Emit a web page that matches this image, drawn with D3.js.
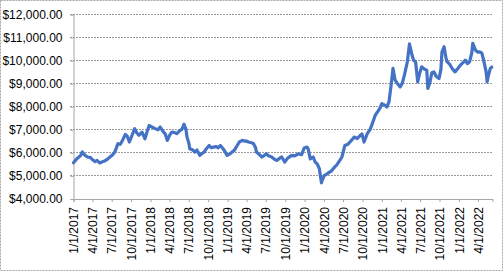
<!DOCTYPE html>
<html><head><meta charset="utf-8">
<script src="https://cdn.jsdelivr.net/npm/d3@7/dist/d3.min.js"></script>
<style>
html,body{margin:0;padding:0;background:#fff;}
svg{display:block;}
text{font-family:"Liberation Sans",Arial,sans-serif;font-size:12px;fill:#000;}
</style></head>
<body>
<svg id="chart" width="503" height="271"></svg>
<script>
const dates = [
"2017-01-03","2017-01-22","2017-02-05","2017-02-14","2017-02-24","2017-03-10","2017-03-24","2017-04-01","2017-04-15","2017-04-25",
"2017-05-08","2017-05-22","2017-06-01","2017-06-15","2017-06-25","2017-07-08","2017-07-18","2017-08-02","2017-08-12","2017-08-22",
"2017-09-06","2017-09-15","2017-09-25","2017-10-06","2017-10-20","2017-10-30","2017-11-09","2017-11-24","2017-12-08","2017-12-18",
"2017-12-28","2018-01-10","2018-01-25","2018-02-08","2018-02-18","2018-03-04","2018-03-14","2018-03-24","2018-04-04","2018-04-14",
"2018-04-28","2018-05-08","2018-05-23","2018-06-01","2018-06-11","2018-06-20","2018-06-25","2018-07-04","2018-07-08","2018-07-23",
"2018-08-01","2018-08-11","2018-08-25","2018-09-04","2018-09-14","2018-09-24","2018-10-08","2018-10-18","2018-10-28","2018-11-11",
"2018-11-20","2018-11-30","2018-12-14","2018-12-24","2019-01-01","2019-01-16","2019-02-04","2019-02-18","2019-02-28","2019-03-14",
"2019-03-28","2019-04-02","2019-04-12","2019-04-27","2019-05-06","2019-05-16","2019-05-20","2019-06-04","2019-06-14","2019-06-24",
"2019-07-06","2019-07-16","2019-07-31","2019-08-14","2019-08-24","2019-09-07","2019-09-17","2019-10-01","2019-10-15","2019-11-03",
"2019-11-17","2019-12-06","2019-12-20","2020-01-01","2020-01-15","2020-01-20","2020-01-30","2020-02-13","2020-02-22","2020-03-03",
"2020-03-13","2020-03-23","2020-03-27","2020-04-06","2020-04-16","2020-04-30","2020-05-10","2020-05-24","2020-06-03","2020-06-18",
"2020-06-28","2020-07-12","2020-07-26","2020-08-05","2020-08-15","2020-08-25","2020-09-09","2020-09-23","2020-10-01","2020-10-11",
"2020-10-26","2020-11-09","2020-11-19","2020-12-03","2020-12-17","2020-12-27","2021-01-03","2021-01-17","2021-01-27","2021-02-06",
"2021-02-16","2021-02-25","2021-03-07","2021-03-17","2021-03-31","2021-04-10","2021-04-20","2021-05-04","2021-05-14","2021-05-24",
"2021-06-02","2021-06-12","2021-06-22","2021-07-01","2021-07-11","2021-07-25","2021-08-04","2021-08-09","2021-08-18","2021-08-28",
"2021-09-07","2021-09-17","2021-10-01","2021-10-10","2021-10-15","2021-10-25","2021-11-03","2021-11-08","2021-11-22","2021-12-02",
"2021-12-16","2021-12-26","2022-01-10","2022-01-24","2022-02-03","2022-02-13","2022-02-23","2022-03-05","2022-03-10","2022-03-23",
"2022-04-02","2022-04-12","2022-04-22","2022-05-02","2022-05-12","2022-05-17","2022-05-22","2022-06-01","2022-06-08"
];
const values = [
5550,5750,5850,6020,5900,5800,5780,5700,5600,5650,
5540,5600,5630,5720,5800,5900,6013,6378,6350,6490,
6780,6700,6450,6700,7030,6850,6740,6880,6590,6900,
7170,7100,7030,6980,7100,6900,6800,6520,6750,6880,
6860,6810,6950,7000,7220,7000,6665,6400,6160,6100,
6013,6100,5870,5950,6013,6150,6300,6200,6230,6250,
6200,6300,6150,6000,5870,5950,6087,6300,6450,6520,
6480,6500,6450,6420,6380,6200,6013,5900,5800,5850,
5940,5850,5800,5700,5650,5750,5800,5580,5750,5870,
5850,5940,5900,6190,6230,6150,5720,5800,5580,5500,
5290,4680,4800,5000,5050,5145,5200,5360,5450,5650,
5800,6300,6350,6450,6550,6665,6600,6740,6800,6450,
6810,7000,7245,7610,7800,7950,8115,8050,7970,8190,
8910,9640,9130,9000,8840,9000,9350,9930,10700,10300,
10000,9930,9060,9420,9710,9600,9565,8770,9000,9450,
9490,9300,9200,9600,10360,10580,10100,9930,9800,9640,
9490,9600,9780,9900,10000,9850,9930,10300,10730,10430,
10350,10360,10300,9930,9500,9060,9300,9640,9700
];
const yTicks = [4000,5000,6000,7000,8000,9000,10000,11000,12000];
const xStart = "2017-01-01", xEnd = "2022-06-09";

const parse = d3.timeParse("%Y-%m-%d");
const data = dates.map((d,i)=>({date:parse(d), value:values[i]}));

const svg = d3.select("#chart");
const L = 73, R = 492, T = 14, B = 198.5;

svg.append("rect").attr("x",0.5).attr("y",0.5).attr("width",502).attr("height",270)
  .attr("fill","#fff").attr("stroke","#a6a6a6").attr("stroke-dasharray","2,1");

const x = d3.scaleTime().domain([parse(xStart), parse(xEnd)]).range([L, R]);
const y = d3.scaleLinear().domain([4000,12000]).range([B, T]);

// gridlines
svg.append("g").selectAll("line").data(yTicks.filter(v=>v>4000)).join("line")
  .attr("x1",L-3).attr("x2",R)
  .attr("y1",d=>Math.round(y(d))+0.5).attr("y2",d=>Math.round(y(d))+0.5)
  .attr("stroke","#9a9a9a").attr("stroke-dasharray","2,1");

// y axis
const yAxis = d3.axisLeft(y).tickValues(yTicks).tickSize(3).tickPadding(8)
  .tickFormat(d=>"$"+d3.format(",.2f")(d));
const gy = svg.append("g").attr("transform",`translate(${L+0.5},0.5)`).call(yAxis);
gy.select(".domain").attr("stroke","#a6a6a6");
gy.selectAll(".tick line").attr("stroke","#a6a6a6");
gy.selectAll(".tick text").attr("font-size","12px").attr("fill","#000").attr("font-family","Liberation Sans, Arial, sans-serif");

// x axis
const xTicks = d3.timeMonth.every(3).range(parse("2017-01-01"), parse("2022-04-02"));
const xAxis = d3.axisBottom(x).tickValues(xTicks).tickSize(3).tickPadding(0)
  .tickFormat(d3.timeFormat("%-m/%-d/%Y"));
const gx = svg.append("g").attr("transform",`translate(0.5,${B+0.5})`).call(xAxis);
gx.select(".domain").attr("stroke","#a6a6a6");
gx.selectAll(".tick line").attr("stroke","#a6a6a6");
gx.selectAll(".tick text")
  .attr("transform","rotate(-90)")
  .attr("text-anchor","end")
  .attr("x",-8).attr("y",0).attr("dy","0.35em")
  .attr("font-size","12px").attr("fill","#000").attr("font-family","Liberation Sans, Arial, sans-serif");

// line
const line = d3.line().x(d=>x(d.date)).y(d=>y(d.value));
svg.append("path").datum(data).attr("d",line)
  .attr("fill","none").attr("stroke","#4472C4").attr("stroke-width",3.2)
  .attr("stroke-linejoin","round").attr("stroke-linecap","round");
</script>
</body></html>
